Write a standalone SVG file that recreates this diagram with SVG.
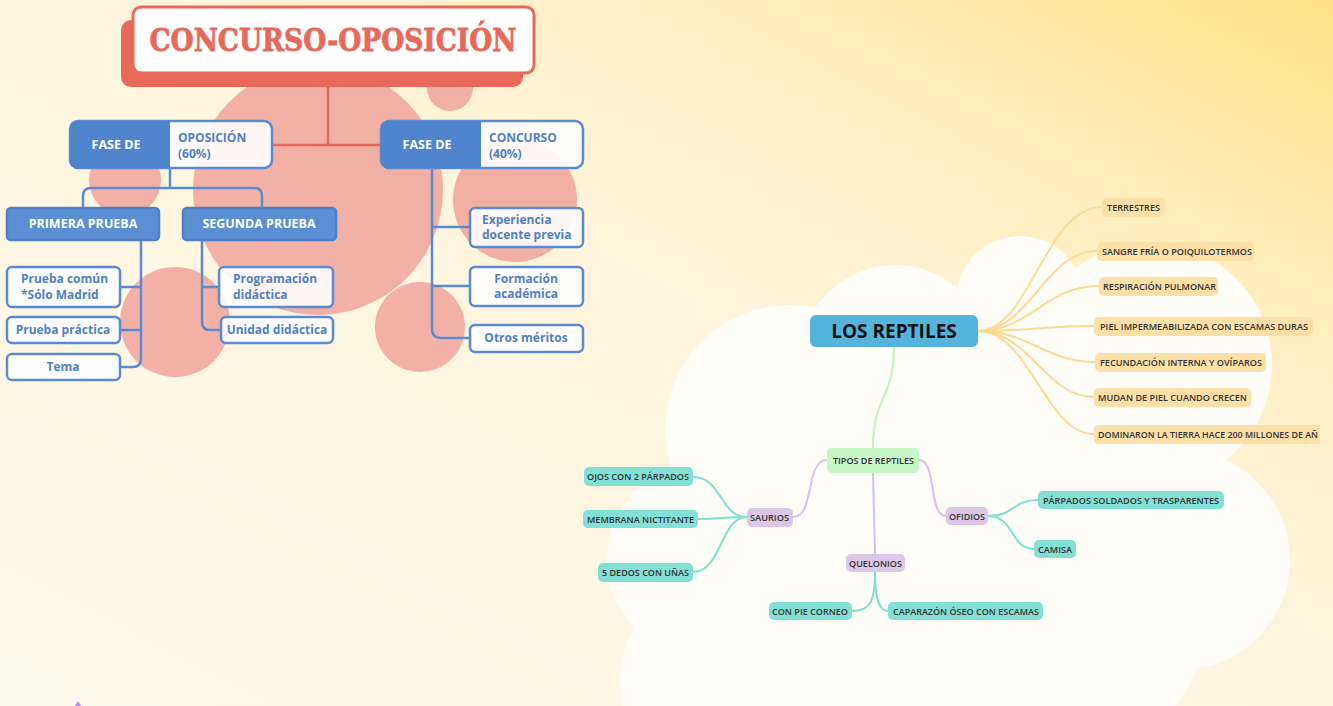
<svg xmlns="http://www.w3.org/2000/svg" width="1333" height="706" viewBox="0 0 1333 706">
<defs>
<linearGradient id="bg" x1="0" y1="1" x2="1" y2="0">
<stop offset="0" stop-color="#fffaee"/>
<stop offset="0.55" stop-color="#fff5de"/>
<stop offset="0.8" stop-color="#ffedb8"/>
<stop offset="1" stop-color="#ffe187"/>
</linearGradient>
<style>
.pink{fill:#f0a39b;opacity:0.85}
.bline{fill:none;stroke:#5a8ad0;stroke-width:2.5;stroke-linecap:round;stroke-linejoin:round}
.rline{fill:none;stroke:#e8685a;stroke-width:2.5}
.wbox{fill:#ffffff;fill-opacity:0.9;stroke:#5a8ad0;stroke-width:2.5}
.fbox{fill:#5b8fd3;stroke:#4f80c6;stroke-width:2.5}
.btxt{font-family:"Open Sans","Liberation Sans",sans-serif;font-weight:700;font-size:12px;fill:#4f7fc4}
.wtxt{font-family:"Open Sans","Liberation Sans",sans-serif;font-weight:700;font-size:12.5px;fill:#ffffff}
.mtxt{font-family:"Open Sans","Liberation Sans",sans-serif;font-weight:600;font-size:9.5px;fill:#333333}
.yl{fill:none;stroke:#fcd994;stroke-width:2}
.gl{fill:none;stroke:#c4f0c0;stroke-width:2}
.pl{fill:none;stroke:#d9c0e8;stroke-width:2}
.tl{fill:none;stroke:#7fdfd0;stroke-width:2}
.ynode{fill:#fde0a8}
.tnode{fill:#82e0d4}
.pnode{fill:#ddc7e7}
.gnode{fill:#c6f5c6}
</style>
</defs>
<rect width="1333" height="706" fill="url(#bg)"/>

<!-- cloud -->
<g id="cloud" fill="#fffdf8">
<circle cx="790" cy="430" r="125"/>
<circle cx="895" cy="360" r="95"/>
<circle cx="1020" cy="300" r="64"/>
<circle cx="1150" cy="365" r="122"/>
<circle cx="1180" cy="560" r="110"/>
<circle cx="1100" cy="640" r="100"/>
<circle cx="705" cy="560" r="98"/>
<circle cx="720" cy="680" r="100"/>
<circle cx="900" cy="560" r="220"/>
<circle cx="1020" cy="470" r="160"/>
</g>

<!-- pink decorative circles -->
<g id="decor">
<circle class="pink" cx="318" cy="190" r="125"/>
<circle class="pink" cx="450" cy="88" r="23"/>
<circle class="pink" cx="125" cy="180" r="36"/>
<circle class="pink" cx="515" cy="200" r="62"/>
<circle class="pink" cx="420" cy="327" r="45"/>
<circle class="pink" cx="175" cy="322" r="55"/>
</g>

<!-- left connectors -->
<g id="connectors-left">
<path class="rline" d="M328,87 V145 M272,145 H381"/>
<path class="bline" d="M170,168 V188 M83,208 V196 Q83,188 91,188 H254 Q262,188 262,196 V208"/>
<path class="bline" d="M141,240 V359 Q141,367 133,367 H120 M120,287 H141 M120,330 H141"/>
<path class="bline" d="M202,240 V322 Q202,330 210,330 H221 M202,287 H219"/>
<path class="bline" d="M432,168 V329 Q432,338 441,338 H470 M432,227 H470 M432,286 H470"/>
</g>

<!-- title -->
<g id="title">
<rect x="121" y="20" width="402" height="67" rx="10" fill="#e8685a"/>
<rect x="133" y="7" width="401" height="66" rx="8" fill="#ffffff" stroke="#e8685a" stroke-width="3"/>
<text x="333" y="51" text-anchor="middle" font-family="'DejaVu Serif','Liberation Serif',serif" font-weight="700" font-size="32" fill="#e8685a" stroke="#e8685a" stroke-width="0.8" textLength="367" lengthAdjust="spacingAndGlyphs">CONCURSO-OPOSICIÓN</text>
</g>

<g id="fase-oposicion">
<rect x="70" y="121" width="202" height="47" rx="8" fill="#ffffff" fill-opacity="0.9" stroke="#5a8ad0" stroke-width="2.5"/>
<path d="M78,121 H170 V168 H78 Q70,168 70,160 V129 Q70,121 78,121 Z" fill="#4f85cc"/>
<text class="wtxt" x="116" y="149" text-anchor="middle" font-size="13.5">FASE DE</text>
<text class="btxt" x="178" y="142">OPOSICIÓN</text>
<text class="btxt" x="178" y="158">(60%)</text>
</g>

<g id="fase-concurso">
<rect x="381" y="121" width="202" height="47" rx="8" fill="#ffffff" fill-opacity="0.9" stroke="#5a8ad0" stroke-width="2.5"/>
<path d="M389,121 H481 V168 H389 Q381,168 381,160 V129 Q381,121 389,121 Z" fill="#4f85cc"/>
<text class="wtxt" x="427" y="149" text-anchor="middle" font-size="13.5">FASE DE</text>
<text class="btxt" x="489" y="142">CONCURSO</text>
<text class="btxt" x="489" y="158">(40%)</text>
</g>

<g id="primera-prueba">
<rect class="fbox" x="7" y="208" width="152" height="32" rx="4"/>
<text class="wtxt" x="83" y="228" text-anchor="middle" font-size="12">PRIMERA PRUEBA</text>
</g>
<g id="segunda-prueba">
<rect class="fbox" x="183" y="208" width="153" height="32" rx="4"/>
<text class="wtxt" x="259" y="228" text-anchor="middle" font-size="12">SEGUNDA PRUEBA</text>
</g>

<g id="prueba-comun">
<rect class="wbox" x="7" y="267" width="113" height="40" rx="5"/>
<text class="btxt" x="21" y="283">Prueba común</text>
<text class="btxt" x="21" y="299">*Sólo Madrid</text>
</g>
<g id="prueba-practica">
<rect class="wbox" x="7" y="317" width="113" height="26" rx="5"/>
<text class="btxt" x="63" y="334" text-anchor="middle">Prueba práctica</text>
</g>
<g id="tema">
<rect class="wbox" x="7" y="354" width="113" height="26" rx="5"/>
<text class="btxt" x="63" y="371" text-anchor="middle">Tema</text>
</g>
<g id="programacion">
<rect class="wbox" x="219" y="267" width="114" height="40" rx="5"/>
<text class="btxt" x="233" y="283">Programación</text>
<text class="btxt" x="233" y="299">didáctica</text>
</g>
<g id="unidad">
<rect class="wbox" x="221" y="317" width="112" height="26" rx="5"/>
<text class="btxt" x="277" y="334" text-anchor="middle">Unidad didáctica</text>
</g>
<g id="experiencia">
<rect class="wbox" x="470" y="208" width="113" height="39" rx="5"/>
<text class="btxt" x="482" y="224">Experiencia</text>
<text class="btxt" x="482" y="239">docente previa</text>
</g>
<g id="formacion">
<rect class="wbox" x="470" y="267" width="113" height="39" rx="5"/>
<text class="btxt" x="526" y="283" text-anchor="middle">Formación</text>
<text class="btxt" x="526" y="298" text-anchor="middle">académica</text>
</g>
<g id="otros">
<rect class="wbox" x="470" y="325" width="113" height="27" rx="5"/>
<text class="btxt" x="526" y="342" text-anchor="middle">Otros méritos</text>
</g>

<!-- mind map connectors -->
<g id="connectors-map">
<path class="yl" d="M978,331 C1030,331 1045,207 1102,207"/>
<path class="yl" d="M978,331 C1030,331 1045,251 1097,251"/>
<path class="yl" d="M978,331 C1030,331 1045,286 1099,286"/>
<path class="yl" d="M978,331 C1030,331 1045,326 1094,326"/>
<path class="yl" d="M978,331 C1030,331 1045,362 1095,362"/>
<path class="yl" d="M978,331 C1030,331 1045,397 1094,397"/>
<path class="yl" d="M978,331 C1030,331 1045,434 1094,434"/>
<path class="gl" d="M894,347 C894,400 873,395 873,448"/>
<path class="pl" d="M827,460 C805,460 815,517 793,517"/>
<path class="pl" d="M919,460 C937,460 928,516 946,516"/>
<path class="pl" d="M873,473 L875,554"/>
<path class="tl" d="M747,517 C720,517 722,477 693,477"/>
<path class="tl" d="M747,517 C725,517 720,519 698,519"/>
<path class="tl" d="M747,517 C720,517 722,572 693,572"/>
<path class="tl" d="M988,516 C1015,516 1012,500 1038,500"/>
<path class="tl" d="M988,516 C1015,516 1010,549 1034,549"/>
<path class="tl" d="M875,572 C875,602 870,611 852,611"/>
<path class="tl" d="M875,572 C875,602 880,611 888,611"/>
</g>

<g id="los-reptiles">
<rect x="810" y="315" width="168" height="32" rx="6" fill="#55b4dc"/>
<text x="894" y="338" text-anchor="middle" font-family="'Open Sans','Liberation Sans',sans-serif" font-weight="700" font-size="19" fill="#111111">LOS REPTILES</text>
</g>

<g id="terrestres"><rect class="ynode" x="1102" y="198" width="63" height="19" rx="5"/><text class="mtxt" x="1107" y="211" textLength="53" lengthAdjust="spacingAndGlyphs">TERRESTRES</text></g>
<g id="sangre"><rect class="ynode" x="1097" y="242" width="158" height="19" rx="5"/><text class="mtxt" x="1102" y="255" textLength="150" lengthAdjust="spacingAndGlyphs">SANGRE FRÍA O POIQUILOTERMOS</text></g>
<g id="respiracion"><rect class="ynode" x="1099" y="277" width="119" height="19" rx="5"/><text class="mtxt" x="1103" y="290" textLength="113" lengthAdjust="spacingAndGlyphs">RESPIRACIÓN PULMONAR</text></g>
<g id="piel"><rect class="ynode" x="1094" y="317" width="219" height="19" rx="5"/><text class="mtxt" x="1100" y="330" textLength="208" lengthAdjust="spacingAndGlyphs">PIEL IMPERMEABILIZADA CON ESCAMAS DURAS</text></g>
<g id="fecundacion"><rect class="ynode" x="1095" y="353" width="171" height="19" rx="5"/><text class="mtxt" x="1100" y="366" textLength="162" lengthAdjust="spacingAndGlyphs">FECUNDACIÓN INTERNA Y OVÍPAROS</text></g>
<g id="mudan"><rect class="ynode" x="1094" y="388" width="157" height="19" rx="5"/><text class="mtxt" x="1098" y="401" textLength="149" lengthAdjust="spacingAndGlyphs">MUDAN DE PIEL CUANDO CRECEN</text></g>
<g id="dominaron"><path class="ynode" d="M1099,425 H1320 V444 H1099 Q1094,444 1094,439 V430 Q1094,425 1099,425 Z"/><text class="mtxt" x="1098" y="438" textLength="220" lengthAdjust="spacingAndGlyphs">DOMINARON LA TIERRA HACE 200 MILLONES DE AÑ</text></g>

<g id="tipos"><rect class="gnode" x="827" y="448" width="92" height="25" rx="5"/><text class="mtxt" x="833" y="464" textLength="81" lengthAdjust="spacingAndGlyphs">TIPOS DE REPTILES</text></g>
<g id="saurios"><rect class="pnode" x="747" y="508" width="46" height="19" rx="5"/><text class="mtxt" x="750" y="521" textLength="39" lengthAdjust="spacingAndGlyphs">SAURIOS</text></g>
<g id="ofidios"><rect class="pnode" x="946" y="507" width="42" height="18" rx="5"/><text class="mtxt" x="949" y="520" textLength="36" lengthAdjust="spacingAndGlyphs">OFIDIOS</text></g>
<g id="quelonios"><rect class="pnode" x="846" y="554" width="59" height="18" rx="5"/><text class="mtxt" x="849" y="567" textLength="53" lengthAdjust="spacingAndGlyphs">QUELONIOS</text></g>

<g id="ojos"><rect class="tnode" x="584" y="467" width="109" height="19" rx="5"/><text class="mtxt" x="587" y="480" textLength="102" lengthAdjust="spacingAndGlyphs">OJOS CON 2 PÁRPADOS</text></g>
<g id="membrana"><rect class="tnode" x="583" y="510" width="115" height="18" rx="5"/><text class="mtxt" x="587" y="523" textLength="107" lengthAdjust="spacingAndGlyphs">MEMBRANA NICTITANTE</text></g>
<g id="dedos"><rect class="tnode" x="598" y="563" width="95" height="19" rx="5"/><text class="mtxt" x="602" y="576" textLength="87" lengthAdjust="spacingAndGlyphs">5 DEDOS CON UÑAS</text></g>
<g id="pie-corneo"><rect class="tnode" x="769" y="602" width="83" height="18" rx="5"/><text class="mtxt" x="772" y="615" textLength="76" lengthAdjust="spacingAndGlyphs">CON PIE CORNEO</text></g>
<g id="caparazon"><rect class="tnode" x="888" y="602" width="155" height="18" rx="5"/><text class="mtxt" x="893" y="615" textLength="146" lengthAdjust="spacingAndGlyphs">CAPARAZÓN ÓSEO CON ESCAMAS</text></g>
<g id="parpados"><rect class="tnode" x="1038" y="491" width="186" height="18" rx="5"/><text class="mtxt" x="1043" y="504" textLength="176" lengthAdjust="spacingAndGlyphs">PÁRPADOS SOLDADOS Y TRASPARENTES</text></g>
<g id="camisa"><rect class="tnode" x="1034" y="540" width="42" height="18" rx="5"/><text class="mtxt" x="1038" y="553" textLength="34" lengthAdjust="spacingAndGlyphs">CAMISA</text></g>

<path d="M75,706 L78,701 L81,706 Z" fill="#b58cf0"/>
</svg>
